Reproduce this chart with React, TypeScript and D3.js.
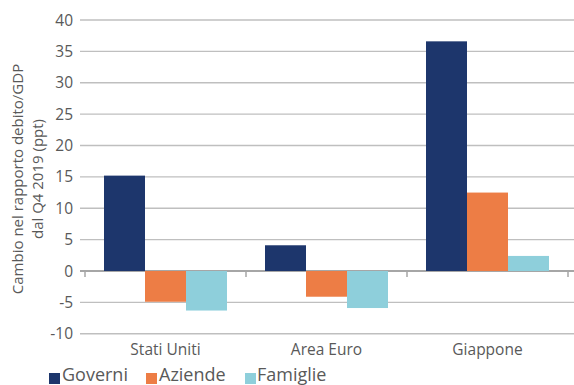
import React from "react";
import * as d3 from "d3";

const categories = ["Stati Uniti", "Area Euro", "Giappone"];
const seriesNames = ["Governi", "Aziende", "Famiglie"];
const governi = [15.2, 4.1, 36.6];
const aziende = [-4.9, -4.1, 12.5];
const famiglie = [-6.3, -5.9, 2.4];
const yTicks = [-10, -5, 0, 5, 10, 15, 20, 25, 30, 35, 40];
const colors = ["#1d366c", "#ed7d45", "#8ecfdb"];

const W = 574;
const H = 385;
const plotLeft = 85;
const plotRight = 568;
const font = "'Open Sans', 'Noto Sans', sans-serif";
const textColor = "#595959";

export default function App() {
  const values = [governi, aziende, famiglie];
  const y = d3.scaleLinear().domain([-10, 40]).range([333.75, 20]);
  const x0 = d3.scaleBand<string>().domain(categories).range([plotLeft, plotRight]).paddingInner(0).paddingOuter(0);
  const groupPad = 19;
  const x1 = d3
    .scaleBand<string>()
    .domain(seriesNames)
    .range([groupPad, x0.bandwidth() - groupPad]);

  const legendItems = [
    { sq: 49, tx: 62 },
    { sq: 146, tx: 159 },
    { sq: 245, tx: 257 },
  ];

  return (
    <svg
      width={W}
      height={H}
      style={{ position: "absolute", left: 0, top: 0, background: "#fff" }}
      fontFamily={font}
    >
      {/* gridlines */}
      {yTicks.map((t) => (
        <line
          key={t}
          x1={80}
          x2={574}
          y1={y(t)}
          y2={y(t)}
          stroke={t === 0 ? "#a6a6a6" : "#bfbfbf"}
          strokeWidth={t === 0 ? 2 : 1.3}
        />
      ))}
      {/* y tick labels */}
      {yTicks.map((t) => (
        <text
          key={"l" + t}
          x={73}
          y={y(t)}
          dy="0.36em"
          textAnchor="end"
          fontSize={15.5}
          fill={textColor}
        >
          {t}
        </text>
      ))}
      {/* category ticks on zero line */}
      {[...categories.map((c) => x0(c)!), plotRight].map((px, i) => (
        <line key={"t" + i} x1={px} x2={px} y1={y(0)} y2={y(0) + 6} stroke="#a6a6a6" strokeWidth={1.5} />
      ))}
      {/* bars */}
      {categories.map((c, ci) =>
        seriesNames.map((s, si) => {
          const v = values[si][ci];
          const bx = x0(c)! + x1(s)!;
          return (
            <rect
              key={c + s}
              x={bx}
              y={Math.min(y(v), y(0))}
              width={x1.bandwidth()}
              height={Math.abs(y(v) - y(0))}
              fill={colors[si]}
            />
          );
        })
      )}
      {/* category labels */}
      {categories.map((c) => (
        <text
          key={"c" + c}
          x={x0(c)! + x0.bandwidth() / 2}
          y={355}
          textAnchor="middle"
          fontSize={15.5}
          fill={textColor}
        >
          {c}
        </text>
      ))}
      {/* y axis title */}
      <g transform="translate(0,179) rotate(-90)">
        <text x={0} y={23} textAnchor="middle" fontSize={15} fill={textColor}>
          Cambio nel rapporto debito/GDP
        </text>
        <text x={0} y={43} textAnchor="middle" fontSize={15} fill={textColor}>
          dal Q4 2019 (ppt)
        </text>
      </g>
      {/* legend */}
      {seriesNames.map((s, i) => (
        <g key={"lg" + s}>
          <rect x={legendItems[i].sq} y={373} width={11} height={11} fill={colors[i]} />
          <text x={legendItems[i].tx} y={381} fontSize={18} fill={textColor}>
            {s}
          </text>
        </g>
      ))}
    </svg>
  );
}
